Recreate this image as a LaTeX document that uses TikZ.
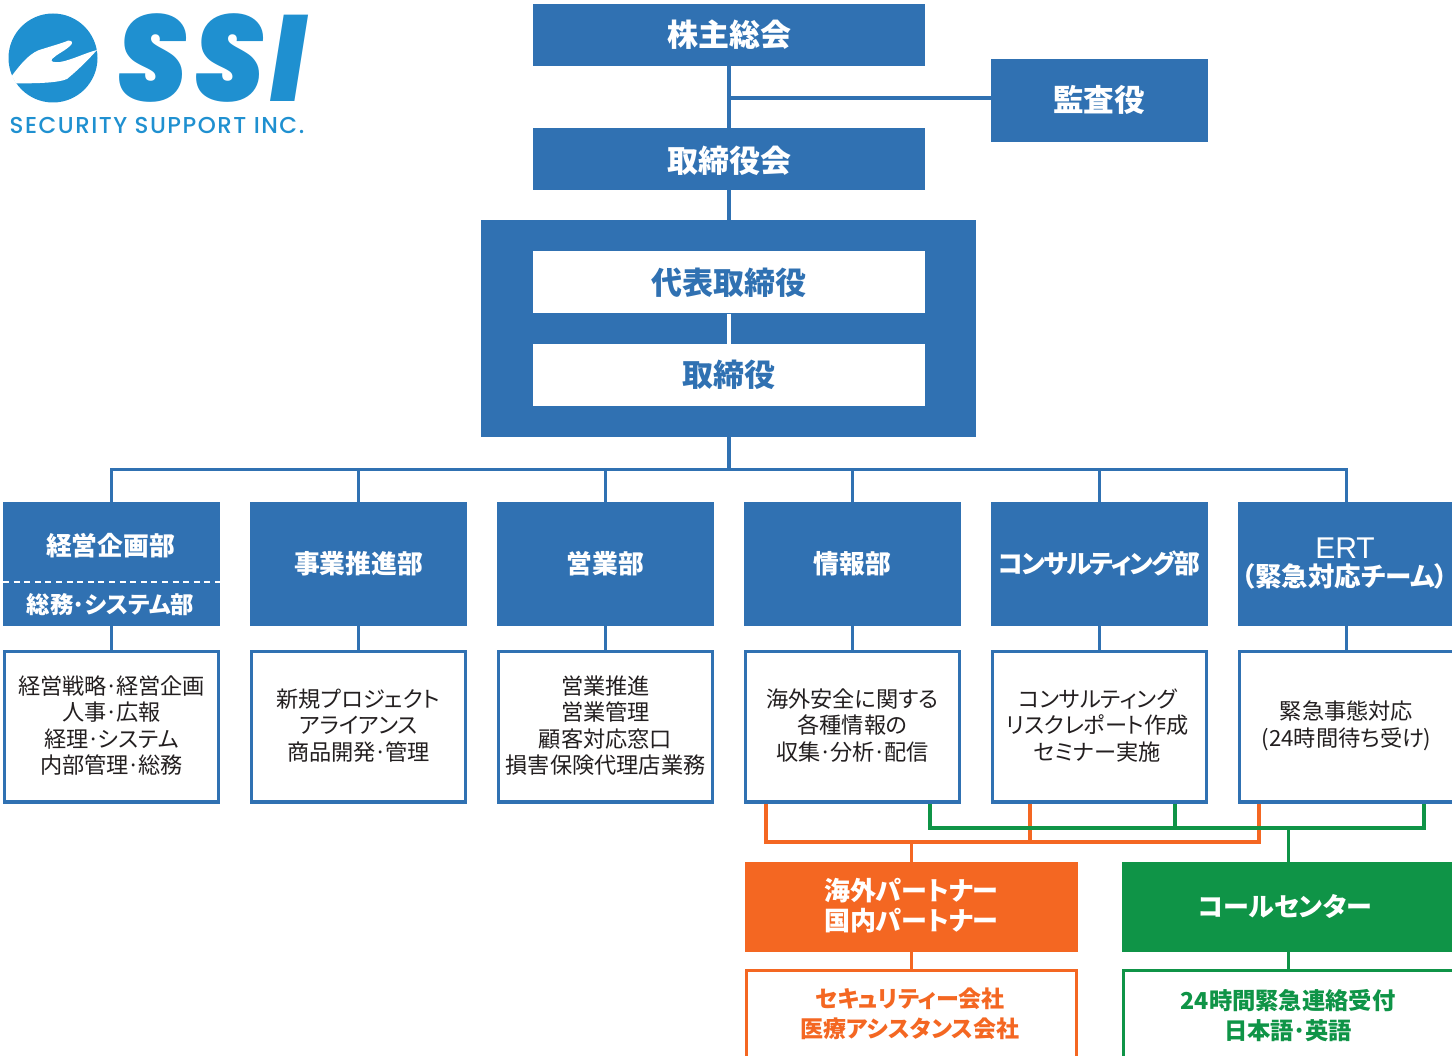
\documentclass[tikz,border=0pt]{standalone}
\usepackage{fontspec}
\setmainfont{Noto Sans CJK JP}[RawFeature=+palt]
\newfontfamily\ertfont{Liberation Sans}
\newfontfamily\logofont{Poppins}[BoldItalicFont=Poppins Black Italic,BoldItalicFeatures={FakeStretch=0.9,LetterSpace=5}]
\newfontfamily\logosub{Poppins Medium}[LetterSpace=6.5]
\definecolor{corp}{HTML}{3071B2}
\definecolor{logob}{HTML}{1F90D0}
\definecolor{orng}{HTML}{F46722}
\definecolor{grn}{HTML}{0F9447}
\definecolor{txt}{HTML}{231F20}
\newcommand{\fs}[2]{\fontsize{#1}{#2}\selectfont}
\newcommand{\pd}{\kern-.07em·\kern-.07em}
\begin{document}
\begin{tikzpicture}[x=1pt,y=-1pt,
  solid box/.style={fill=#1,draw=none,inner sep=0pt,text=white,align=center,font=\bfseries},
  top box/.style={solid box=corp,minimum width=392pt,minimum height=62pt,font=\fs{31}{34}\bfseries},
  dept/.style={solid box=corp,minimum width=217pt,minimum height=124pt,font=\fs{25.8}{31}\bfseries},
  lbl/.style={inner sep=0pt,text=white,align=center},
  detail/.style={draw=corp,line width=3.2pt,fill=white,inner sep=0pt,minimum width=213.8pt,minimum height=150.8pt},
  dtext/.style={inner sep=0pt,yshift=1pt,align=center,text=txt,font=\fs{22.2}{26.6}},
  partner/.style={solid box=#1,minimum height=90pt,font=\fs{26}{30}\bfseries},
  lower/.style={draw=#1,line width=3.2pt,fill=white,inner sep=0pt,text=#1,align=center,font=\fs{22}{30}\bfseries},
  link/.style={draw=corp,line width=3.8pt},
  olink/.style={draw=orng,line width=3.4pt},
  glink/.style={draw=grn,line width=3.4pt}]
\useasboundingbox (0,0) rectangle (1452,1056);
\node[solid box=corp,minimum width=495pt,minimum height=217pt] (big) at (728.5,328.5) {};
\coordinate (bus) at (729,469.5);
\coordinate (audj) at (729,98);

% top boxes
\node[top box] (kabu) at (729,35) {株主総会};
\node[top box] (tori) at (729,159) {};
\node[lbl,font=\fs{31}{34}\bfseries] (torit) at (729,160.5) {取締役会};
\node[solid box=corp,minimum width=217pt,minimum height=83pt] (kansa) at (1099.5,100.5) {};
\node[lbl,font=\fs{30.6}{34}\bfseries] (kansat) at (1099,99.5) {監査役};
\node[top box,fill=white,text=corp] (dai) at (729,282.5) {代表取締役};
\node[top box,fill=white,text=corp] (yaku) at (729,375) {取締役};

% departments
\node[dept] (d1) at (111.5,564) {};
\node[dept] (d2) at (358.5,564) {事業推進部};
\node[dept] (d3) at (605.5,564) {営業部};
\node[dept] (d4) at (852.5,564) {情報部};
\node[dept] (d5) at (1099.5,564) {};
\node[dept] (d6) at (1346.5,564) {};
\node[lbl,font=\fs{25.8}{31}\bfseries\addfontfeature{LetterSpace=-6.5}] (d5t) at (1099,563.5) {コンサルティング部};
\node[lbl,font=\fs{26.5}{28.5}\bfseries] (d6t) at (1345,563.5) {{\ertfont\mdseries\fs{30}{28.5}ERT}\\（緊急対応チーム）};
\node[lbl,font=\fs{25.8}{30}\bfseries] (d1a) at (110.5,545.5) {経営企画部};
\node[lbl,font=\fs{23.4}{28}\bfseries] (d1b) at (110.5,604.5) {総務\pd システム部};
\coordinate (dl) at (3,582);
\coordinate (dr) at (220,582);
\draw[white,line width=1.6pt,dash pattern=on 6pt off 4.6pt] (dl) -- (dr);

% details
\node[detail] (e1) at (111.5,726.5) {};
\node[detail] (e2) at (358.5,726.5) {};
\node[detail] (e3) at (605.5,726.5) {};
\node[detail] (e4) at (852.5,726.5) {};
\node[detail] (e5) at (1099.5,726.5) {};
\node[detail] (e6) at (1346.5,726.5) {};
\node[dtext] (t1) at (e1) {経営戦略\pd 経営企画\\人事\pd 広報\\経理\pd システム\\内部管理\pd 総務};
\node[dtext] (t2) at (e2) {新規プロジェクト\\アライアンス\\商品開発\pd 管理};
\node[dtext] (t3) at (e3) {営業推進\\営業管理\\顧客対応窓口\\損害保険代理店業務};
\node[dtext] (t4) at (e4) {海外安全に関する\\各種情報の\\収集\pd 分析\pd 配信};
\node[dtext,xshift=-2pt] (t5) at (e5) {コンサルティング\\リスクレポート作成\\セミナー実施};
\node[dtext] (t6) at (e6) {緊急事態対応\\(24時間待ち受け)};

% partners
\node[partner=orng,minimum width=333pt] (op) at (911.5,907) {};
\node[lbl,font=\fs{26}{30}\bfseries] (opt) at (911,905.5) {海外パートナー\\国内パートナー};
\node[partner=grn,minimum width=333pt] (gp) at (1288.5,907) {};
\node[lbl,font=\fs{26}{30}\bfseries] (gpt) at (1285,906) {コールセンター};
\node[lower=orng,minimum width=329.8pt,minimum height=100pt,anchor=north] (ol) at (911.5,968.6) {};
\node[lower=grn,minimum width=329.8pt,minimum height=100pt,anchor=north] (gl) at (1288.5,968.6) {};
\node[inner sep=0pt,text=orng,align=center,font=\fs{23}{30}\bfseries] (olt) at (910,1013.5) {セキュリティー会社\\医療アシスタンス会社};
\node[inner sep=0pt,text=grn,align=center,font=\fs{23.3}{30}\bfseries] (glt) at (1288,1015.5) {24時間緊急連絡受付\\日本語\pd 英語};

% connectors
\draw[link] (kabu.south) -- (tori.north);
\draw[link] (audj) -- (kansa.west |- audj);
\draw[link] (tori.south) -- (tori.south |- big.north);
\draw[white,line width=3.8pt] (dai.south) -- (yaku.north);
\draw[link] (tori.south |- big.south) -- (bus);
\draw[link,line cap=rect] (d1.north |- bus) -- (d6.north |- bus);
\foreach \n in {1,...,6}{
  \draw[link] (d\n.north |- bus) -- (d\n.north);
  \draw[link] (d\n.south) -- (e\n.north);
}
\coordinate (oa) at (766,842);
\coordinate (ob) at (1030,842);
\coordinate (oc) at (1259,842);
\coordinate (ga) at (930,828);
\coordinate (gb) at (1175,828);
\coordinate (gc) at (1424,828);
\draw[olink,line join=miter] (oa |- e4.south) -- (oa) -- (oc) -- (oc |- e6.south);
\draw[olink] (ob |- e5.south) -- (ob);
\draw[olink] (op.north) -- (op.north |- oa);
\draw[glink,line join=miter] (ga |- e4.south) -- (ga) -- (gc) -- (gc |- e6.south);
\draw[glink] (gb |- e5.south) -- (gb);
\draw[glink] (gp.north) -- (gp.north |- ga);
\draw[olink] (op.south) -- (ol.north);
\draw[glink] (gp.south) -- (gl.north);

% logo
\fill[logob] (53,58) circle (44.5);
\fill[white] (11.7,76) .. controls (20,65) and (28,55) .. (38,50.5)
  .. controls (48,47) and (60,44) .. (68,40.7)
  .. controls (72,40) and (73,43) .. (71,45)
  .. controls (65,51) and (57,54) .. (52,59)
  .. controls (50,62) and (54,62.5) .. (60,62)
  .. controls (72,60) and (85,53) .. (97,50)
  .. controls (88,60) and (78,70) .. (67,79)
  .. controls (58,83) and (35,83.5) .. (16,83.3) -- cycle;
\node[inner sep=0pt,text=logob,anchor=base,text height=88pt,text depth=0pt,font=\fs{122}{122}\logofont\bfseries\itshape] (ssi) at (212,102) {SSI};
\node[inner sep=0pt,text=logob,anchor=base west,text height=17pt,text depth=0pt,font=\fs{23}{24}\logosub] (sub) at (9.5,134) {SECURITY SUPPORT INC.};
\end{tikzpicture}
\end{document}
